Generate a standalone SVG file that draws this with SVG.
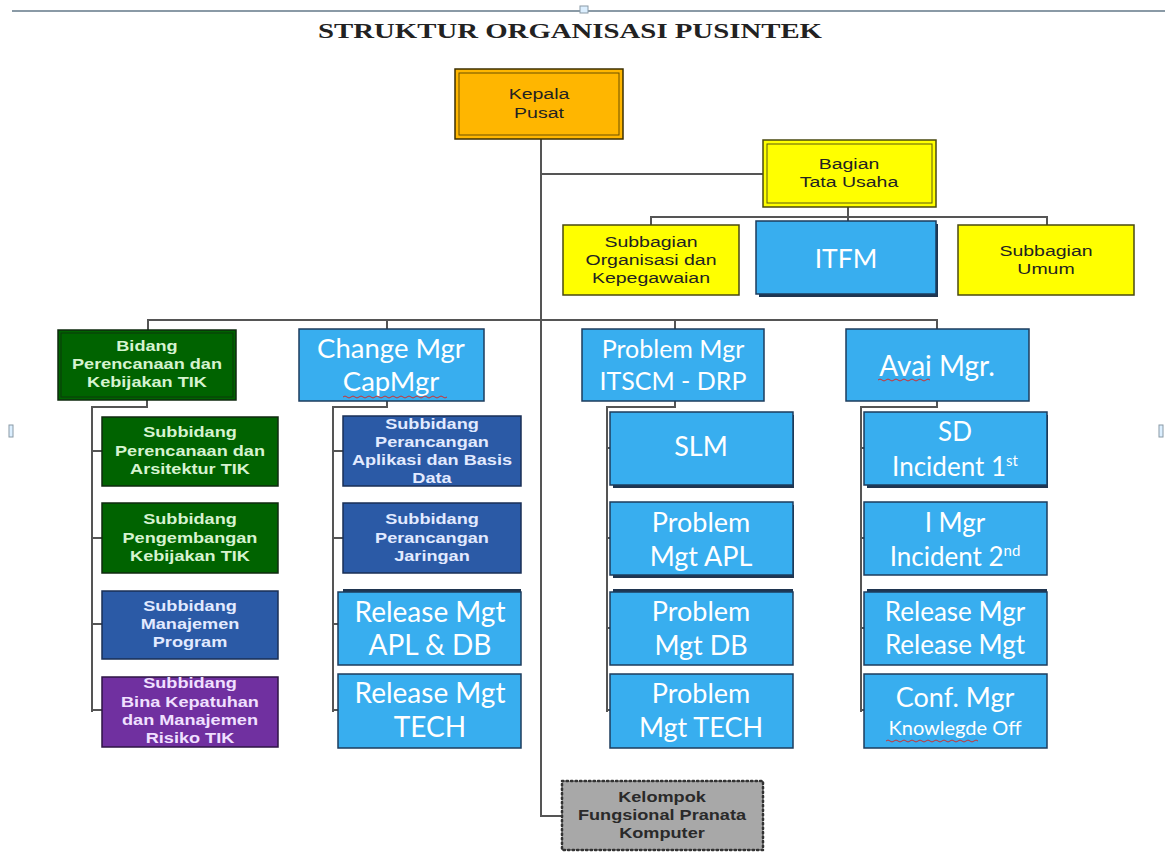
<svg xmlns="http://www.w3.org/2000/svg" width="1165" height="853" viewBox="0 0 1165 853">
<defs>
<style>
.conn{stroke:#555;stroke-width:2;fill:none}
.ar{font-family:"Liberation Sans",Arial,sans-serif;font-size:15px;text-anchor:middle;fill:#222}
.arb{font-family:"Liberation Sans",Arial,sans-serif;font-size:14.5px;font-weight:bold;text-anchor:middle}
.cal{font-family:Lato,"Noto Sans",sans-serif;fill:#fff;text-anchor:middle}
.lb{fill:#38AEEF;stroke:#1d3c5e;stroke-width:1.5}
.db{fill:#2B5AA6;stroke:#1a2f55;stroke-width:1.5}
.gr{fill:#006300;stroke:#0f2a0f;stroke-width:1.5}
.yl{fill:#FFFF00;stroke:#4a4a10;stroke-width:1.5}
.sq{fill:none;stroke:#d03030;stroke-width:1}
</style>
</defs>
<rect width="1165" height="853" fill="#fff"/>
<g id="frame">
<line x1="12" y1="11" x2="1165" y2="11" stroke="#8a9aa6" stroke-width="2"/>
<rect x="580" y="6" width="8" height="7" fill="#dcefff" stroke="#8a9aa6" stroke-width="1"/>
<rect x="9" y="425" width="4" height="12" fill="#dcefff" stroke="#8a9aa6" stroke-width="1"/>
<rect x="1159" y="425" width="4" height="12" fill="#dcefff" stroke="#8a9aa6" stroke-width="1"/>
</g>
<text x="570" y="38" font-family="Liberation Serif,'Times New Roman',serif" font-weight="bold" font-size="21" text-anchor="middle" fill="#222" textLength="504" lengthAdjust="spacingAndGlyphs">STRUKTUR ORGANISASI PUSINTEK</text>

<g id="connectors">
<path class="conn" d="M541 139 V816 H562"/>
<path class="conn" d="M541 174 H763"/>
<path class="conn" d="M848 207 V217 M651 225 V217 H1047 V225 M848 217 V221"/>
<path class="conn" d="M148 330 V320 H937 V329 M387 320 V329 M675 320 V329"/>
<path class="conn" d="M147 400 V407 H92 V712 M92 451 H102 M92 538 H102 M92 624 H102 M92 710 H102"/>
<path class="conn" d="M387 401 V407 H333 V712 M333 451 H343 M333 538 H343 M333 624 H338 M333 710 H338"/>
<path class="conn" d="M675 401 V407 H607 V712 M607 448 H610 M607 538 H610 M607 628 H610 M607 710 H610"/>
<path class="conn" d="M937 401 V407 H861 V712 M861 448 H864 M861 538 H864 M861 628 H864 M861 710 H864"/>
</g>

<g id="kepala">
<rect x="455" y="69" width="168" height="70" fill="#FFB600" stroke="#3d2f00" stroke-width="1.5"/>
<rect x="459" y="73" width="160" height="62" fill="none" stroke="#6b5000" stroke-width="1"/>
<g transform="matrix(1.3 0 0 1 -161.7 0)">
<text class="ar" x="539" y="99">Kepala</text>
<text class="ar" x="539" y="118">Pusat</text>
</g>
</g>
<g id="bagian">
<rect x="763" y="140" width="173" height="67" class="yl"/>
<rect x="767" y="144" width="165" height="59" fill="none" stroke="#5a5a10" stroke-width="1"/>
<g transform="matrix(1.3 0 0 1 -254.7 0)">
<text class="ar" x="849" y="169">Bagian</text>
<text class="ar" x="849" y="187">Tata Usaha</text>
</g>
</g>
<g id="subbagian-org">
<rect x="563" y="225" width="176" height="70" class="yl"/>
<g transform="matrix(1.3 0 0 1 -195.3 0)">
<text class="ar" x="651" y="247">Subbagian</text>
<text class="ar" x="651" y="265">Organisasi dan</text>
<text class="ar" x="651" y="283">Kepegawaian</text>
</g>
</g>
<g id="itfm">
<rect x="759" y="224" width="179" height="73" fill="#1f3550"/>
<rect x="756" y="221" width="180" height="73" class="lb"/>
<text class="cal" x="846" y="268" font-size="26.5">ITFM</text>
</g>
<g id="subbagian-umum">
<rect x="958" y="225" width="176" height="70" class="yl"/>
<g transform="matrix(1.3 0 0 1 -313.8 0)">
<text class="ar" x="1046" y="256">Subbagian</text>
<text class="ar" x="1046" y="274">Umum</text>
</g>
</g>

<g id="bidang">
<rect x="58" y="330" width="178" height="70" class="gr"/>
<rect x="61" y="333" width="172" height="64" fill="none" stroke="#0b3a0b" stroke-width="1"/>
<g transform="matrix(1.25 0 0 1 -36.75 0)" fill="#d6f3d0">
<text class="arb" x="147" y="351">Bidang</text>
<text class="arb" x="147" y="369">Perencanaan dan</text>
<text class="arb" x="147" y="387">Kebijakan TIK</text>
</g>
</g>
<g id="sub-arsitektur">
<rect x="102" y="417" width="176" height="69" class="gr"/>
<g transform="matrix(1.25 0 0 1 -47.5 0)" fill="#d6f3d0">
<text class="arb" x="190" y="437">Subbidang</text>
<text class="arb" x="190" y="456">Perencanaan dan</text>
<text class="arb" x="190" y="474">Arsitektur TIK</text>
</g>
</g>
<g id="sub-kebijakan">
<rect x="102" y="503" width="176" height="70" class="gr"/>
<g transform="matrix(1.25 0 0 1 -47.5 0)" fill="#d6f3d0">
<text class="arb" x="190" y="524">Subbidang</text>
<text class="arb" x="190" y="543">Pengembangan</text>
<text class="arb" x="190" y="561">Kebijakan TIK</text>
</g>
</g>
<g id="sub-program">
<rect x="102" y="591" width="176" height="68" class="db"/>
<g transform="matrix(1.25 0 0 1 -47.5 0)" fill="#e2eaff">
<text class="arb" x="190" y="611">Subbidang</text>
<text class="arb" x="190" y="629">Manajemen</text>
<text class="arb" x="190" y="647">Program</text>
</g>
</g>
<g id="sub-risiko">
<rect x="102" y="677" width="176" height="70" fill="#7030A0" stroke="#2e1444" stroke-width="1.5"/>
<g transform="matrix(1.25 0 0 1 -47.5 0)" fill="#f0e0ff">
<text class="arb" x="190" y="688">Subbidang</text>
<text class="arb" x="190" y="707">Bina Kepatuhan</text>
<text class="arb" x="190" y="725">dan Manajemen</text>
<text class="arb" x="190" y="743">Risiko TIK</text>
</g>
</g>

<g id="change-mgr">
<rect x="299" y="329" width="185" height="72" class="lb"/>
<text class="cal" x="391" y="358" font-size="27.5">Change Mgr</text>
<text class="cal" x="391" y="391" font-size="27.5">CapMgr</text>
<path class="sq" d="M343 397 q2 -2 4 0 t4 0 t4 0 t4 0 t4 0 t4 0 t4 0 t4 0 t4 0 t4 0 t4 0 t4 0 t4 0 t4 0 t4 0 t4 0 t4 0 t4 0 t4 0 t4 0 t4 0 t4 0 t4 0 t4 0 t4 0 t4 0"/>
</g>
<g id="sub-aplikasi">
<rect x="343" y="416" width="178" height="70" class="db"/>
<g transform="matrix(1.25 0 0 1 -108 0)" fill="#e2eaff">
<text class="arb" x="432" y="429">Subbidang</text>
<text class="arb" x="432" y="447">Perancangan</text>
<text class="arb" x="432" y="465">Aplikasi dan Basis</text>
<text class="arb" x="432" y="483">Data</text>
</g>
</g>
<g id="sub-jaringan">
<rect x="343" y="503" width="178" height="70" class="db"/>
<g transform="matrix(1.25 0 0 1 -108 0)" fill="#e2eaff">
<text class="arb" x="432" y="524">Subbidang</text>
<text class="arb" x="432" y="543">Perancangan</text>
<text class="arb" x="432" y="561">Jaringan</text>
</g>
</g>
<g id="release-apl">
<rect x="343" y="589" width="178" height="10" fill="#1f3550"/>
<rect x="338" y="592" width="183" height="73" class="lb"/>
<text class="cal" x="430" y="622" font-size="28">Release Mgt</text>
<text class="cal" x="430" y="655" font-size="28">APL &amp; DB</text>
</g>
<g id="release-tech">
<rect x="338" y="674" width="183" height="74" class="lb"/>
<text class="cal" x="430" y="703" font-size="28">Release Mgt</text>
<text class="cal" x="430" y="737" font-size="28">TECH</text>
</g>

<g id="problem-mgr">
<rect x="582" y="329" width="182" height="72" class="lb"/>
<text class="cal" x="673" y="358" font-size="25">Problem Mgr</text>
<text class="cal" x="673" y="390" font-size="25">ITSCM - DRP</text>
</g>
<g id="slm">
<rect x="613" y="415" width="181" height="73" fill="#1f3550"/>
<rect x="610" y="412" width="183" height="73" class="lb"/>
<text class="cal" x="701" y="456" font-size="27">SLM</text>
</g>
<g id="problem-apl">
<rect x="613" y="505" width="181" height="73" fill="#1f3550"/>
<rect x="610" y="502" width="183" height="73" class="lb"/>
<text class="cal" x="701" y="532" font-size="27">Problem</text>
<text class="cal" x="701" y="566" font-size="27">Mgt APL</text>
</g>
<g id="problem-db">
<rect x="613" y="589" width="180" height="8" fill="#1f3550"/>
<rect x="610" y="592" width="183" height="73" class="lb"/>
<text class="cal" x="701" y="621" font-size="27">Problem</text>
<text class="cal" x="701" y="655" font-size="27">Mgt DB</text>
</g>
<g id="problem-tech">
<rect x="610" y="674" width="183" height="74" class="lb"/>
<text class="cal" x="701" y="703" font-size="27">Problem</text>
<text class="cal" x="701" y="737" font-size="27">Mgt TECH</text>
</g>

<g id="avai-mgr">
<rect x="846" y="329" width="183" height="72" class="lb"/>
<text class="cal" x="937" y="376" font-size="28">Avai Mgr.</text>
<path class="sq" d="M878 380 q2 -2 4 0 t4 0 t4 0 t4 0 t4 0 t4 0 t4 0 t4 0 t4 0 t4 0 t4 0 t4 0 t4 0"/>
</g>
<g id="sd-incident">
<rect x="867" y="415" width="181" height="73" fill="#1f3550"/>
<rect x="864" y="412" width="183" height="73" class="lb"/>
<text class="cal" x="955" y="441" font-size="26">SD</text>
<text class="cal" x="955" y="476" font-size="26">Incident 1<tspan font-size="15" dy="-10">st</tspan></text>
</g>
<g id="i-mgr">
<rect x="864" y="502" width="183" height="73" class="lb"/>
<text class="cal" x="955" y="532" font-size="26">I Mgr</text>
<text class="cal" x="955" y="566" font-size="26">Incident 2<tspan font-size="15" dy="-10">nd</tspan></text>
</g>
<g id="release-mgr">
<rect x="867" y="589" width="180" height="8" fill="#1f3550"/>
<rect x="864" y="592" width="183" height="73" class="lb"/>
<text class="cal" x="955" y="621" font-size="26">Release Mgr</text>
<text class="cal" x="955" y="654" font-size="26">Release Mgt</text>
</g>
<g id="conf-mgr">
<rect x="864" y="674" width="183" height="74" class="lb"/>
<text class="cal" x="955" y="707" font-size="27">Conf. Mgr</text>
<text class="cal" x="955" y="735" font-size="20">Knowlegde Off</text>
<path class="sq" d="M886 741 q2 -2 4 0 t4 0 t4 0 t4 0 t4 0 t4 0 t4 0 t4 0 t4 0 t4 0 t4 0 t4 0 t4 0 t4 0 t4 0 t4 0 t4 0 t4 0 t4 0 t4 0 t4 0 t4 0 t4 0"/>
</g>

<g id="kelompok">
<rect x="562" y="781" width="201" height="69" fill="#A8A8A8" stroke="#333" stroke-width="2.5" stroke-dasharray="1.5 3" stroke-linecap="round"/>
<g transform="matrix(1.25 0 0 1 -165.5 0)" fill="#2a2a2a">
<text class="arb" x="662" y="802" font-size="15">Kelompok</text>
<text class="arb" x="662" y="820" font-size="15">Fungsional Pranata</text>
<text class="arb" x="662" y="838" font-size="15">Komputer</text>
</g>
</g>
</svg>
